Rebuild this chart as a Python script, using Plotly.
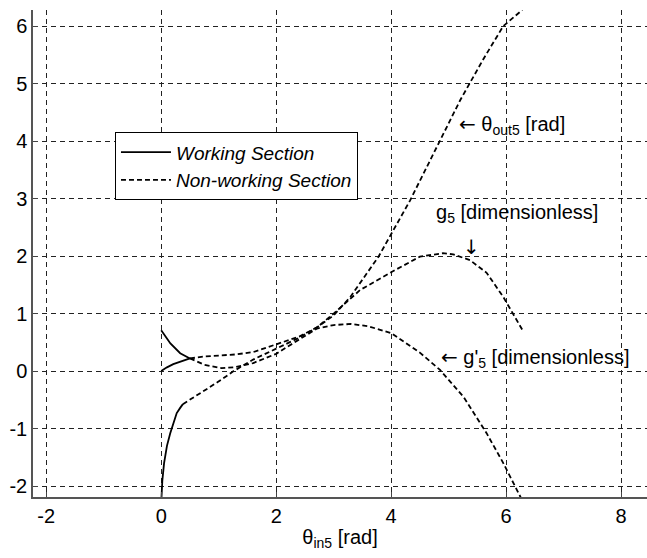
import plotly.graph_objects as go

# ---- data ----
# theta_out5, working section
tout_w_x = [0.0, 0.02, 0.05, 0.1, 0.157, 0.22, 0.27, 0.33, 0.377]
tout_w_y = [-2.3, -1.9, -1.6, -1.3, -1.08, -0.88, -0.73, -0.64, -0.575]
# theta_out5, non-working section
tout_n_x = [0.377, 0.68, 0.97, 1.26, 1.6, 2.0, 2.4, 2.71, 3.0, 3.29, 3.78, 4.33, 4.85, 5.2, 5.6, 5.95, 6.28]
tout_n_y = [-0.575, -0.39, -0.2, 0.0, 0.2, 0.39, 0.58, 0.76, 0.97, 1.29, 1.99, 2.97, 4.02, 4.71, 5.42, 6.0, 6.28]
# g5, working section
g_w_x = [0.0, 0.1, 0.21, 0.35, 0.5]
g_w_y = [0.0, 0.065, 0.12, 0.175, 0.22]
# g5, non-working section
g_n_x = [0.5, 0.75, 1.0, 1.3, 1.6, 2.0, 2.4, 2.71, 3.0, 3.46, 4.0, 4.5, 4.9, 5.08, 5.37, 5.66, 5.95, 6.28]
g_n_y = [0.22, 0.255, 0.27, 0.29, 0.33, 0.47, 0.6, 0.76, 1.0, 1.41, 1.72, 1.99, 2.05, 2.03, 1.93, 1.71, 1.29, 0.72]
# g'5, working section
gp_w_x = [0.0, 0.08, 0.16, 0.33, 0.5]
gp_w_y = [0.71, 0.59, 0.48, 0.31, 0.22]
# g'5, non-working section
gp_n_x = [0.5, 0.75, 1.05, 1.3, 1.6, 2.0, 2.4, 2.71, 3.0, 3.3, 3.6, 4.0, 4.5, 4.85, 5.26, 5.66, 5.95, 6.28]
gp_n_y = [0.22, 0.11, 0.05, 0.07, 0.14, 0.3, 0.55, 0.74, 0.8, 0.82, 0.78, 0.66, 0.32, 0.02, -0.45, -1.08, -1.6, -2.25]

x_ticks = [-2, 0, 2, 4, 6, 8]
y_ticks = [-2, -1, 0, 1, 2, 3, 4, 5, 6]

FONT = "Liberation Sans, Arial, sans-serif"
FS = 20
LW = 1.8
DASH = "5px,3px"
ARROW = "<span style='font-family:DejaVu Sans'>%s</span>"

fig = go.Figure()

def add(x, y, dash, name, show):
    fig.add_trace(go.Scatter(
        x=x, y=y, mode="lines",
        line=dict(color="black", width=LW, dash=dash),
        name=name, legendgroup=name, showlegend=show,
        hoverinfo="skip"))

add(tout_w_x, tout_w_y, "solid", "<i>Working Section</i>", True)
add(g_w_x, g_w_y, "solid", "<i>Working Section</i>", False)
add(gp_w_x, gp_w_y, "solid", "<i>Working Section</i>", False)
add(tout_n_x, tout_n_y, DASH, "<i>Non-working Section</i>", True)
add(g_n_x, g_n_y, DASH, "<i>Non-working Section</i>", False)
add(gp_n_x, gp_n_y, DASH, "<i>Non-working Section</i>", False)

ann_font = dict(family=FONT, size=FS, color="black")
fig.add_annotation(x=5.15, y=4.28, xref="x", yref="y", xanchor="left", yanchor="middle",
                   text=(ARROW % "\u2190") + " \u03b8<sub>out5</sub> [rad]", showarrow=False, font=ann_font)
fig.add_annotation(x=4.75, y=2.74, xref="x", yref="y", xanchor="left", yanchor="middle",
                   text="g<sub>5</sub> [dimensionless]", showarrow=False, font=ann_font)
fig.add_annotation(x=5.39, y=2.16, xref="x", yref="y", xanchor="center", yanchor="middle",
                   text=ARROW % "\u2193", showarrow=False, font=ann_font)
fig.add_annotation(x=4.83, y=0.22, xref="x", yref="y", xanchor="left", yanchor="middle",
                   text=(ARROW % "\u2190") + " g'<sub>5</sub> [dimensionless]", showarrow=False, font=ann_font)

axis_common = dict(
    showgrid=True, gridcolor="#222222", gridwidth=1, griddash="5px,4px",
    zeroline=False, showline=True, linecolor="#555555", linewidth=1.5,
    ticks="inside", ticklen=5, tickcolor="#444444", tickwidth=1,
    tickfont=dict(family=FONT, size=FS, color="black"),
)

fig.update_xaxes(range=[-2.23, 8.45], tickvals=x_ticks, ticktext=[str(v) for v in x_ticks],
                 title=dict(text="\u03b8<sub>in5</sub> [rad]", font=dict(family=FONT, size=FS, color="black"),
                            standoff=4),
                 **axis_common)
fig.update_yaxes(range=[-2.19, 6.28], tickvals=y_ticks, ticktext=[str(v) for v in y_ticks],
                 **axis_common)

fig.update_layout(
    width=647, height=558,
    margin=dict(l=33, r=0, t=10, b=61),
    paper_bgcolor="white", plot_bgcolor="white",
    showlegend=True,
    legend=dict(x=0.1335, y=0.749, xanchor="left", yanchor="top",
                bgcolor="white", bordercolor="black", borderwidth=1,
                font=dict(family=FONT, size=19, color="black"),
                tracegroupgap=0, itemwidth=50),
    font=dict(family=FONT, size=FS, color="black"),
)

fig.write_html("out.html")
